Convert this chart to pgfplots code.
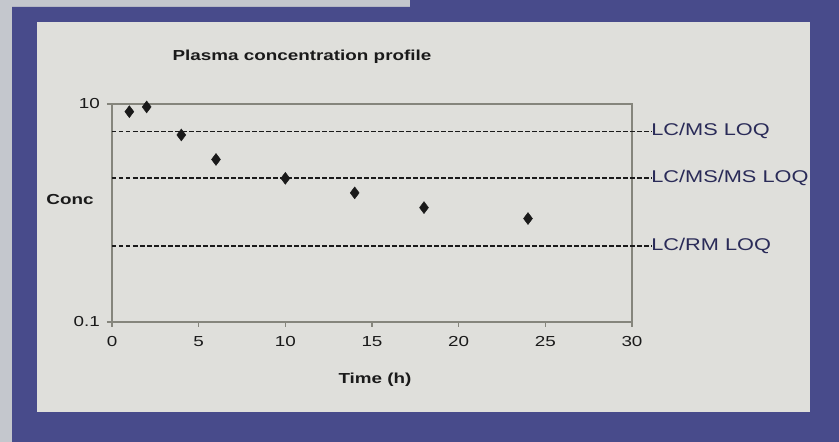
\documentclass[border=0pt]{standalone}
\usepackage{pgfplots}
\pgfplotsset{compat=1.18}
\usepackage{fontspec}
\setmainfont{Liberation Sans}
\definecolor{bluebg}{HTML}{484B8B}
\definecolor{greybg}{HTML}{C4C7CD}
\definecolor{panel}{HTML}{DFDFDB}
\definecolor{axgray}{HTML}{85857C}
\definecolor{navy}{HTML}{2A2B58}
\definecolor{ink}{HTML}{1A1A1A}
\begin{document}
\begin{tikzpicture}
\fill[greybg] (0pt,0pt) rectangle (839pt,442pt);
\fill[bluebg] (12pt,0pt) -- (12pt,435pt) -- (410pt,435pt) -- (410pt,442pt) -- (839pt,442pt) -- (839pt,0pt) -- cycle;
\fill[panel] (37pt,30pt) rectangle (810pt,420pt);
\begin{axis}[
  at={(112pt,120pt)}, anchor=south west,
  scale only axis, width=520pt, height=218pt,
  xmin=0, xmax=30, ymode=log, ymin=0.1, ymax=10,
  xtick={0,5,...,30}, ytick={0.1,10}, yticklabels={0.1,10},
  yminorticks=false,
  xtick pos=bottom, ytick pos=left,
  tick align=outside, major tick length=5pt,
  axis line style={axgray, line width=1.4pt},
  tick style={axgray, line width=1.4pt},
  /pgf/number format/assume math mode=true,
  ticklabel style={font=\fontsize{14.5}{17}\selectfont, text=ink, xscale=1.3},
  xticklabel style={yshift=-6pt},
  yticklabel style={xshift=-2pt},
  clip=false,
]
\addplot[ink, line width=1.8pt, dash pattern=on 4.5pt off 2.5pt] coordinates {(0,5.6) (31.1,5.6)};
\addplot[ink, line width=1.8pt, dash pattern=on 4.5pt off 2.5pt] coordinates {(0,2.1) (31.1,2.1)};
\addplot[ink, line width=1.8pt, dash pattern=on 4.5pt off 2.5pt] coordinates {(0,0.5) (31.1,0.5)};
\addplot[only marks, mark=diamond*, mark size=6pt, ink] coordinates {
  (1,8.5) (2,9.4) (4,5.2) (6,3.1) (10,2.08) (14,1.53) (18,1.12) (24,0.89)};
\node[anchor=west, inner sep=0pt, text=navy, font=\fontsize{17}{20}\selectfont, xscale=1.28] at (axis cs:31.1,5.6) {LC/MS LOQ};
\node[anchor=west, inner sep=0pt, text=navy, font=\fontsize{17}{20}\selectfont, xscale=1.28] at (axis cs:31.1,2.1) {LC/MS/MS LOQ};
\node[anchor=west, inner sep=0pt, text=navy, font=\fontsize{17}{20}\selectfont, xscale=1.28] at (axis cs:31.1,0.5) {LC/RM LOQ};
\end{axis}
\node[text=ink, font=\bfseries\fontsize{14.5}{17}\selectfont, xscale=1.3] at (302pt,385pt) {Plasma concentration profile};
\node[text=ink, font=\bfseries\fontsize{14.5}{17}\selectfont, xscale=1.3] at (375pt,62pt) {Time (h)};
\node[text=ink, font=\bfseries\fontsize{14.5}{17}\selectfont, xscale=1.3] at (70pt,242pt) {Conc};
\end{tikzpicture}
\end{document}
